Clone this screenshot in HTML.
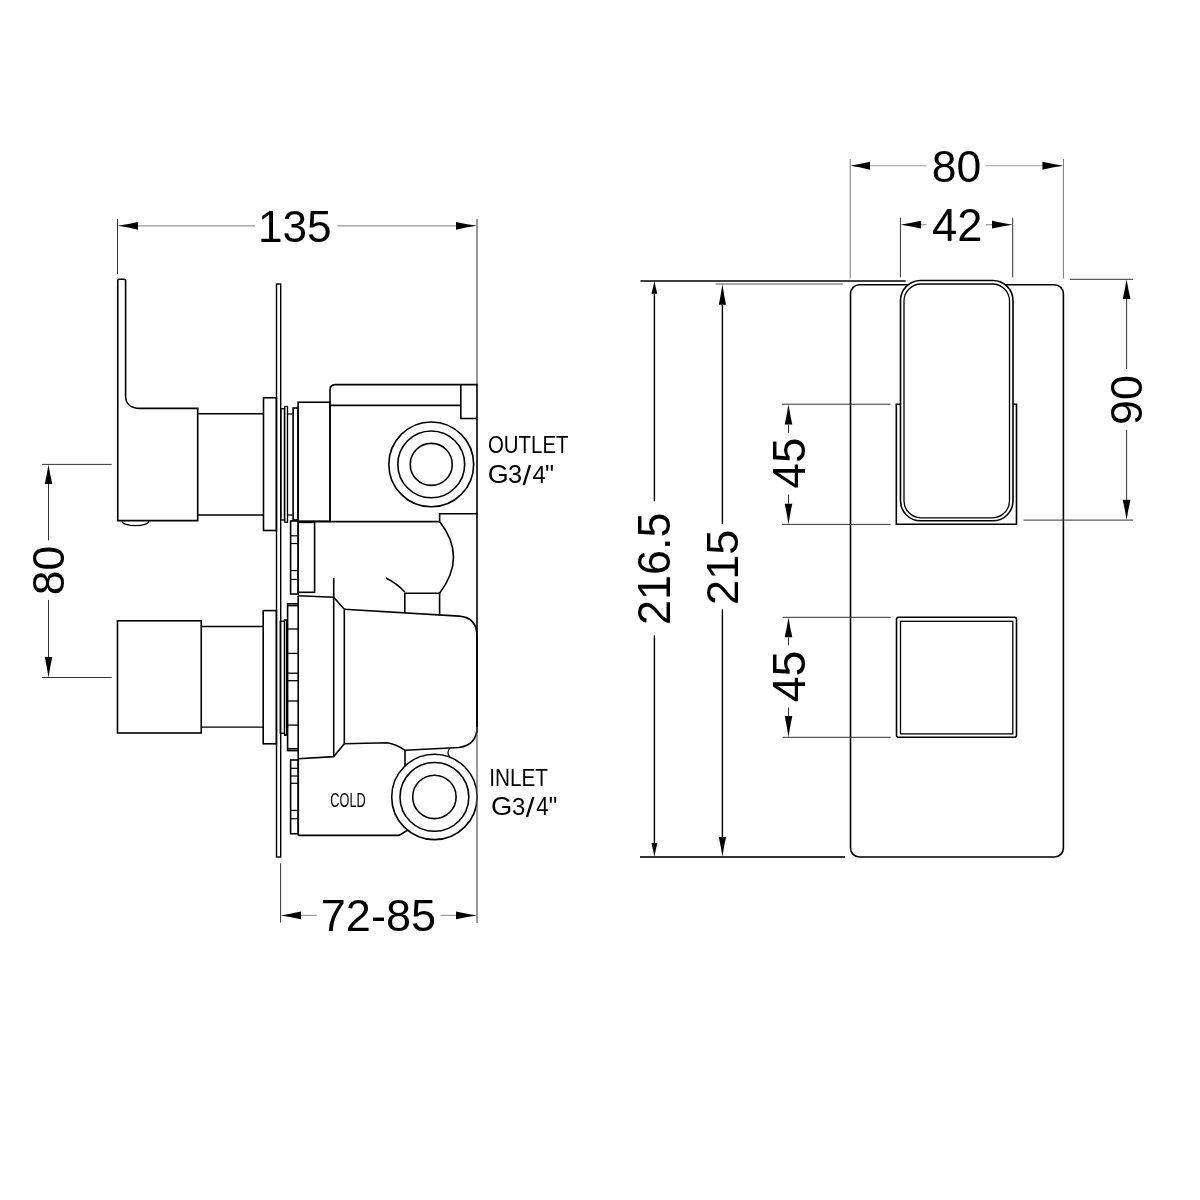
<!DOCTYPE html>
<html><head><meta charset="utf-8"><title>Technical drawing</title>
<style>html,body{margin:0;padding:0;background:#fff;}svg{display:block;filter:grayscale(1);font-family:"Liberation Sans",sans-serif;}</style>
</head><body>
<svg width="1200" height="1200" viewBox="0 0 1200 1200">
<rect width="1200" height="1200" fill="#fff"/>
<line x1="117.5" y1="219" x2="117.5" y2="274" stroke="#333" stroke-width="1"/>
<line x1="477" y1="219" x2="477" y2="386" stroke="#333" stroke-width="1"/>
<line x1="138" y1="225.8" x2="255" y2="225.8" stroke="#9a9a9a" stroke-width="1.2"/>
<line x1="337.5" y1="225.8" x2="456" y2="225.8" stroke="#9a9a9a" stroke-width="1.2"/>
<path d="M117.50,225.80 Q128.78,227.56 138.00,229.70 L138.00,221.90 Q128.78,224.05 117.50,225.80Z" fill="#000"/>
<path d="M477.00,225.80 Q465.45,224.05 456.00,221.90 L456.00,229.70 Q465.45,227.56 477.00,225.80Z" fill="#000"/>
<text transform="matrix(0.4419,0,0,0.4507,257.96,241.55)" font-size="100" fill="#000">135</text>
<line x1="42" y1="464.4" x2="111.7" y2="464.4" stroke="#333" stroke-width="1"/>
<line x1="42" y1="677.5" x2="111.7" y2="677.5" stroke="#333" stroke-width="1"/>
<line x1="48.5" y1="484" x2="48.5" y2="540.4" stroke="#333" stroke-width="1"/>
<line x1="48.5" y1="599.8" x2="48.5" y2="657" stroke="#333" stroke-width="1"/>
<path d="M48.50,464.40 Q46.79,475.18 44.70,484.00 L52.30,484.00 Q50.21,475.18 48.50,464.40Z" fill="#000"/>
<path d="M48.50,677.50 Q50.21,666.23 52.30,657.00 L44.70,657.00 Q46.79,666.23 48.50,677.50Z" fill="#000"/>
<text transform="matrix(0,-0.4447,0.4366,0,63.56,595.28)" font-size="100" fill="#000">80</text>
<path d="M117.75,520.6 L117.75,280.6 Q117.75,279.2 119.2,279.2 L124.1,279.2 Q125.6,279.2 125.6,280.6 L125.6,396 C125.6,404 131,408.4 140,408.4 L197.7,408.4 L197.7,520.6 Z" fill="none" stroke="#000" stroke-width="1.6" stroke-linejoin="miter"/>
<path d="M122,521.2 A13.4,4.4 0 0 0 148.8,521.2" fill="none" stroke="#000" stroke-width="1.2" stroke-linejoin="miter"/>
<line x1="197.7" y1="413.75" x2="263.5" y2="413.75" stroke="#000" stroke-width="1.3"/>
<line x1="197.7" y1="515" x2="263.5" y2="515" stroke="#000" stroke-width="1.3"/>
<rect x="263.5" y="397.75" width="12.90" height="132.75" fill="none" stroke="#000" stroke-width="1.6"/>
<rect x="276.5" y="284" width="4.20" height="573.00" fill="none" stroke="#000" stroke-width="1.4"/>
<rect x="280.9" y="408.75" width="3.50" height="111.25" fill="none" stroke="#000" stroke-width="1.3"/>
<rect x="284.75" y="406.5" width="2.75" height="115.75" fill="none" stroke="#000" stroke-width="1.3"/>
<line x1="287.5" y1="414" x2="293" y2="414" stroke="#000" stroke-width="1.2"/>
<line x1="287.5" y1="515" x2="293" y2="515" stroke="#000" stroke-width="1.2"/>
<rect x="293.1" y="408" width="5.00" height="112.00" fill="none" stroke="#000" stroke-width="1.6"/>
<rect x="298.1" y="402.25" width="31.90" height="119.00" fill="none" stroke="#000" stroke-width="1.6"/>
<path d="M330,521.25 L330,390 Q330,384.6 335.4,384.6 L477,384.6 L477,513.75 L439.6,513.75 L439.6,521.6" fill="none" stroke="#000" stroke-width="1.6" stroke-linejoin="miter"/>
<line x1="330" y1="405.4" x2="460.8" y2="405.4" stroke="#000" stroke-width="1.6"/>
<path d="M460.8,385 L460.8,418.5 L477,418.5" fill="none" stroke="#000" stroke-width="1.6" stroke-linejoin="miter"/>
<circle cx="431.25" cy="464.4" r="42.4" fill="none" stroke="#000" stroke-width="1.6"/>
<circle cx="431.25" cy="464.4" r="33.4" fill="none" stroke="#000" stroke-width="1.6"/>
<circle cx="431.25" cy="464.4" r="21" fill="none" stroke="#000" stroke-width="1.6"/>
<line x1="298.1" y1="521.6" x2="439.6" y2="521.6" stroke="#000" stroke-width="1.6"/>
<rect x="290.6" y="521" width="7.60" height="73.00" fill="none" stroke="#000" stroke-width="1.6"/>
<line x1="290.6" y1="535.8" x2="298.2" y2="535.8" stroke="#000" stroke-width="1.2"/>
<line x1="290.6" y1="543.5" x2="298.2" y2="543.5" stroke="#000" stroke-width="1.2"/>
<line x1="290.6" y1="570.6" x2="298.2" y2="570.6" stroke="#000" stroke-width="1.2"/>
<line x1="290.6" y1="579.4" x2="298.2" y2="579.4" stroke="#000" stroke-width="1.2"/>
<rect x="298.2" y="522.4" width="16.40" height="69.90" fill="none" stroke="#000" stroke-width="1.6"/>
<path d="M439.6,521.6 Q467.4,557 439.6,593.2" fill="none" stroke="#000" stroke-width="1.6" stroke-linejoin="miter"/>
<path d="M404.8,612.8 L404.8,593.2 L439.6,593.2 L439.6,614.7" fill="none" stroke="#000" stroke-width="1.6" stroke-linejoin="miter"/>
<path d="M386,578 Q397,583.5 404.8,592" fill="none" stroke="#000" stroke-width="1.6" stroke-linejoin="miter"/>
<line x1="333.7" y1="578" x2="333.7" y2="756.6" stroke="#000" stroke-width="1.6"/>
<path d="M298.2,595.8 L333.7,597.2 L344.3,609.2 L344.3,743.8 L333.7,756.6 L298.2,758.7" fill="none" stroke="#000" stroke-width="1.6" stroke-linejoin="miter"/>
<rect x="117.5" y="620.8" width="83.75" height="112.20" fill="none" stroke="#000" stroke-width="1.6"/>
<line x1="201.25" y1="626.5" x2="263.2" y2="626.5" stroke="#000" stroke-width="1.3"/>
<line x1="201.25" y1="727.2" x2="263.2" y2="727.2" stroke="#000" stroke-width="1.3"/>
<rect x="263.2" y="610.6" width="13.20" height="133.20" fill="none" stroke="#000" stroke-width="1.6"/>
<rect x="280.2" y="621.2" width="4.30" height="112.00" fill="none" stroke="#000" stroke-width="1.3"/>
<rect x="284.5" y="619.8" width="2.10" height="115.50" fill="none" stroke="#000" stroke-width="1.2"/>
<rect x="287.6" y="603.8" width="10.60" height="146.80" fill="none" stroke="#000" stroke-width="1.6"/>
<line x1="287.6" y1="605.6" x2="298.2" y2="605.6" stroke="#000" stroke-width="1.5"/>
<line x1="287.6" y1="748.8" x2="298.2" y2="748.8" stroke="#000" stroke-width="1.5"/>
<line x1="298.2" y1="595.8" x2="298.2" y2="603.8" stroke="#000" stroke-width="1.6"/>
<line x1="298.2" y1="750.6" x2="298.2" y2="758.7" stroke="#000" stroke-width="1.6"/>
<line x1="287.6" y1="629" x2="298.2" y2="629" stroke="#000" stroke-width="1.3"/>
<line x1="287.6" y1="653.4" x2="298.2" y2="653.4" stroke="#000" stroke-width="1.3"/>
<line x1="287.6" y1="673.2" x2="298.2" y2="673.2" stroke="#000" stroke-width="1.3"/>
<line x1="287.6" y1="680.7" x2="298.2" y2="680.7" stroke="#000" stroke-width="1.3"/>
<line x1="287.6" y1="701" x2="298.2" y2="701" stroke="#000" stroke-width="1.3"/>
<line x1="287.6" y1="725.1" x2="298.2" y2="725.1" stroke="#000" stroke-width="1.3"/>
<path d="M344.3,609.2 L459,616.1 Q477,617.5 477,636 L477,727 Q477,745 459,747.5 L405,750.3 Q396,744 387,742.8 L344.3,743.8" fill="none" stroke="#000" stroke-width="1.6" stroke-linejoin="miter"/>
<line x1="405" y1="750.3" x2="405" y2="766" stroke="#000" stroke-width="1.6"/>
<path d="M449.5,748.5 Q446.5,752.5 449.5,756.5" fill="none" stroke="#000" stroke-width="1.2" stroke-linejoin="miter"/>
<rect x="290.6" y="760" width="7.70" height="73.75" fill="none" stroke="#000" stroke-width="1.6"/>
<line x1="290.6" y1="768.3" x2="298.3" y2="768.3" stroke="#000" stroke-width="1.2"/>
<line x1="290.6" y1="776" x2="298.3" y2="776" stroke="#000" stroke-width="1.2"/>
<line x1="290.6" y1="783.3" x2="298.3" y2="783.3" stroke="#000" stroke-width="1.2"/>
<line x1="290.6" y1="810.4" x2="298.3" y2="810.4" stroke="#000" stroke-width="1.2"/>
<line x1="290.6" y1="818.75" x2="298.3" y2="818.75" stroke="#000" stroke-width="1.2"/>
<line x1="298.2" y1="758.7" x2="298.2" y2="835.4" stroke="#000" stroke-width="1.6"/>
<path d="M298.3,835.4 L399,835.4 L408,830" fill="none" stroke="#000" stroke-width="1.6" stroke-linejoin="miter"/>
<circle cx="434.4" cy="796.9" r="42.7" fill="none" stroke="#000" stroke-width="1.6"/>
<circle cx="434.4" cy="796.9" r="34.4" fill="none" stroke="#000" stroke-width="1.6"/>
<circle cx="434.4" cy="796.9" r="21.7" fill="none" stroke="#000" stroke-width="1.6"/>
<text transform="matrix(0.1269,0,0,0.1972,330.37,806.50)" font-size="100" fill="#000">COLD</text>
<line x1="477" y1="513" x2="477" y2="733" stroke="#000" stroke-width="1.6"/>
<line x1="477" y1="727" x2="477" y2="923" stroke="#555" stroke-width="1.2"/>
<line x1="280.6" y1="863.3" x2="280.6" y2="922.7" stroke="#333" stroke-width="1"/>
<line x1="301" y1="915.4" x2="316.7" y2="915.4" stroke="#9a9a9a" stroke-width="1.2"/>
<line x1="440.6" y1="915.4" x2="456" y2="915.4" stroke="#9a9a9a" stroke-width="1.2"/>
<path d="M280.60,915.40 Q291.82,917.15 301.00,919.30 L301.00,911.50 Q291.82,913.64 280.60,915.40Z" fill="#000"/>
<path d="M477.00,915.40 Q465.45,913.64 456.00,911.50 L456.00,919.30 Q465.45,917.15 477.00,915.40Z" fill="#000"/>
<text transform="matrix(0.4510,0,0,0.4408,320.74,931.26)" font-size="100" fill="#000">72-85</text>
<text transform="matrix(0.2041,0,0,0.2415,487.98,453.16)" font-size="100" fill="#000">OUTLET</text>
<text transform="matrix(0.2692,0,0,0.2549,487.75,482.85)" font-size="100" fill="#000">G</text>
<text transform="matrix(0.2532,0,0,0.2507,507.99,482.55)" font-size="100" fill="#000">3</text>
<text transform="matrix(0.3125,0,0,0.2740,522.50,484.70)" font-size="100" fill="#000">/</text>
<text transform="matrix(0.2392,0,0,0.2485,532.62,482.75)" font-size="100" fill="#000">4</text>
<text transform="matrix(0.2556,0,0,0.2591,544.88,483.18)" font-size="100" fill="#000">&quot;</text>
<text transform="matrix(0.2077,0,0,0.2420,489.13,786.00)" font-size="100" fill="#000">INLET</text>
<text transform="matrix(0.2738,0,0,0.2507,491.03,814.95)" font-size="100" fill="#000">G</text>
<text transform="matrix(0.2394,0,0,0.2479,512.04,814.75)" font-size="100" fill="#000">3</text>
<text transform="matrix(0.3143,0,0,0.2795,525.80,817.40)" font-size="100" fill="#000">/</text>
<text transform="matrix(0.2206,0,0,0.2500,536.31,815.05)" font-size="100" fill="#000">4</text>
<text transform="matrix(0.2407,0,0,0.2545,548.64,814.96)" font-size="100" fill="#000">&quot;</text>
<rect x="850.5" y="284.7" width="212.90" height="572.30" rx="9" fill="none" stroke="#000" stroke-width="1.6"/>
<line x1="640.5" y1="281" x2="905.7" y2="281" stroke="#000" stroke-width="1.6"/>
<line x1="715.7" y1="284" x2="842.8" y2="284" stroke="#444" stroke-width="0.9"/>
<line x1="640" y1="857" x2="845" y2="857" stroke="#333" stroke-width="1.8"/>
<line x1="850.2" y1="159" x2="850.2" y2="278.4" stroke="#777" stroke-width="1"/>
<line x1="1063.4" y1="159" x2="1063.4" y2="278.4" stroke="#777" stroke-width="1"/>
<line x1="870" y1="165.75" x2="926.4" y2="165.75" stroke="#9a9a9a" stroke-width="1.2"/>
<line x1="986" y1="165.75" x2="1042.4" y2="165.75" stroke="#9a9a9a" stroke-width="1.2"/>
<path d="M850.20,165.75 Q861.09,167.50 870.00,169.65 L870.00,161.85 Q861.09,164.00 850.20,165.75Z" fill="#000"/>
<path d="M1063.40,165.75 Q1051.85,164.00 1042.40,161.85 L1042.40,169.65 Q1051.85,167.50 1063.40,165.75Z" fill="#000"/>
<text transform="matrix(0.4456,0,0,0.4507,931.82,181.55)" font-size="100" fill="#000">80</text>
<line x1="900.4" y1="217.75" x2="900.4" y2="277.3" stroke="#333" stroke-width="1"/>
<line x1="1012.7" y1="217.75" x2="1012.7" y2="277.3" stroke="#333" stroke-width="1"/>
<line x1="921" y1="224.7" x2="926.4" y2="224.7" stroke="#9a9a9a" stroke-width="1.2"/>
<line x1="986" y1="224.7" x2="992" y2="224.7" stroke="#9a9a9a" stroke-width="1.2"/>
<path d="M900.40,224.70 Q911.73,226.45 921.00,228.60 L921.00,220.80 Q911.73,222.94 900.40,224.70Z" fill="#000"/>
<path d="M1012.70,224.70 Q1001.32,222.94 992.00,220.80 L992.00,228.60 Q1001.32,226.45 1012.70,224.70Z" fill="#000"/>
<text transform="matrix(0.4538,0,0,0.4571,932.09,241.00)" font-size="100" fill="#000">42</text>
<rect x="900.5" y="280.5" width="112.50" height="240.30" rx="20" fill="#fff" stroke="#000" stroke-width="1.6"/>
<rect x="904" y="284" width="105.50" height="233.80" rx="17" fill="none" stroke="#000" stroke-width="1.3"/>
<path d="M900.5,404.2 L896.3,404.2 L896.3,524.3 L1016.5,524.3 L1016.5,404.2 L1013,404.2" fill="none" stroke="#000" stroke-width="1.6" stroke-linejoin="miter"/>
<line x1="1070" y1="279.3" x2="1133" y2="279.3" stroke="#333" stroke-width="1"/>
<line x1="1023.5" y1="520.1" x2="1133" y2="520.1" stroke="#333" stroke-width="1"/>
<line x1="1126.6" y1="299" x2="1126.6" y2="369" stroke="#333" stroke-width="1"/>
<line x1="1126.6" y1="429.8" x2="1126.6" y2="499.8" stroke="#333" stroke-width="1"/>
<path d="M1126.60,279.30 Q1124.84,290.13 1122.70,299.00 L1130.50,299.00 Q1128.36,290.13 1126.60,279.30Z" fill="#000"/>
<path d="M1126.60,520.10 Q1128.36,508.94 1130.50,499.80 L1122.70,499.80 Q1124.84,508.94 1126.60,520.10Z" fill="#000"/>
<text transform="matrix(0,-0.4480,0.4507,0,1142.25,424.94)" font-size="100" fill="#000">90</text>
<line x1="782" y1="404.2" x2="890.6" y2="404.2" stroke="#333" stroke-width="1"/>
<line x1="782" y1="524.4" x2="890.6" y2="524.4" stroke="#333" stroke-width="1"/>
<line x1="788.5" y1="424.5" x2="788.5" y2="432.7" stroke="#333" stroke-width="1"/>
<line x1="788.5" y1="494.5" x2="788.5" y2="503.8" stroke="#333" stroke-width="1"/>
<path d="M788.50,404.20 Q786.79,415.37 784.70,424.50 L792.30,424.50 Q790.21,415.37 788.50,404.20Z" fill="#000"/>
<path d="M788.50,524.40 Q790.21,513.07 792.30,503.80 L784.70,503.80 Q786.79,513.07 788.50,524.40Z" fill="#000"/>
<text transform="matrix(0,-0.4552,0.4671,0,805.03,488.41)" font-size="100" fill="#000">45</text>
<rect x="896.5" y="617.3" width="120.00" height="120.00" rx="2" fill="none" stroke="#000" stroke-width="1.6"/>
<rect x="900.5" y="621.3" width="112.30" height="112.60" fill="none" stroke="#000" stroke-width="1.3"/>
<line x1="782.7" y1="617.3" x2="890.7" y2="617.3" stroke="#333" stroke-width="1"/>
<line x1="782.7" y1="737.3" x2="890.7" y2="737.3" stroke="#333" stroke-width="1"/>
<line x1="788.5" y1="637.3" x2="788.5" y2="645.3" stroke="#333" stroke-width="1"/>
<line x1="788.5" y1="707.5" x2="788.5" y2="716" stroke="#333" stroke-width="1"/>
<path d="M788.50,617.30 Q786.79,628.30 784.70,637.30 L792.30,637.30 Q790.21,628.30 788.50,617.30Z" fill="#000"/>
<path d="M788.50,737.30 Q790.21,725.58 792.30,716.00 L784.70,716.00 Q786.79,725.58 788.50,737.30Z" fill="#000"/>
<text transform="matrix(0,-0.4648,0.4571,0,804.84,702.23)" font-size="100" fill="#000">45</text>
<line x1="654.4" y1="293.8" x2="654.4" y2="501.3" stroke="#000" stroke-width="1.4"/>
<line x1="654.4" y1="635.3" x2="654.4" y2="843" stroke="#000" stroke-width="1.4"/>
<path d="M654.40,281.00 Q653.05,288.04 651.40,293.80 L657.40,293.80 Q655.75,288.04 654.40,281.00Z" fill="#000"/>
<path d="M654.40,857.00 Q655.75,849.30 657.40,843.00 L651.40,843.00 Q653.05,849.30 654.40,857.00Z" fill="#000"/>
<text transform="matrix(0,-0.4494,0.4549,0,670.25,624.95)" font-size="100" fill="#000">216.5</text>
<line x1="722.4" y1="304.8" x2="722.4" y2="524" stroke="#000" stroke-width="1.4"/>
<line x1="722.4" y1="609.3" x2="722.4" y2="837" stroke="#000" stroke-width="1.4"/>
<path d="M722.40,284.00 Q720.78,295.44 718.80,304.80 L726.00,304.80 Q724.02,295.44 722.40,284.00Z" fill="#000"/>
<path d="M722.40,857.00 Q724.02,846.00 726.00,837.00 L718.80,837.00 Q720.78,846.00 722.40,857.00Z" fill="#000"/>
<text transform="matrix(0,-0.4519,0.4507,0,737.55,604.96)" font-size="100" fill="#000">215</text>
</svg>
</body></html>
